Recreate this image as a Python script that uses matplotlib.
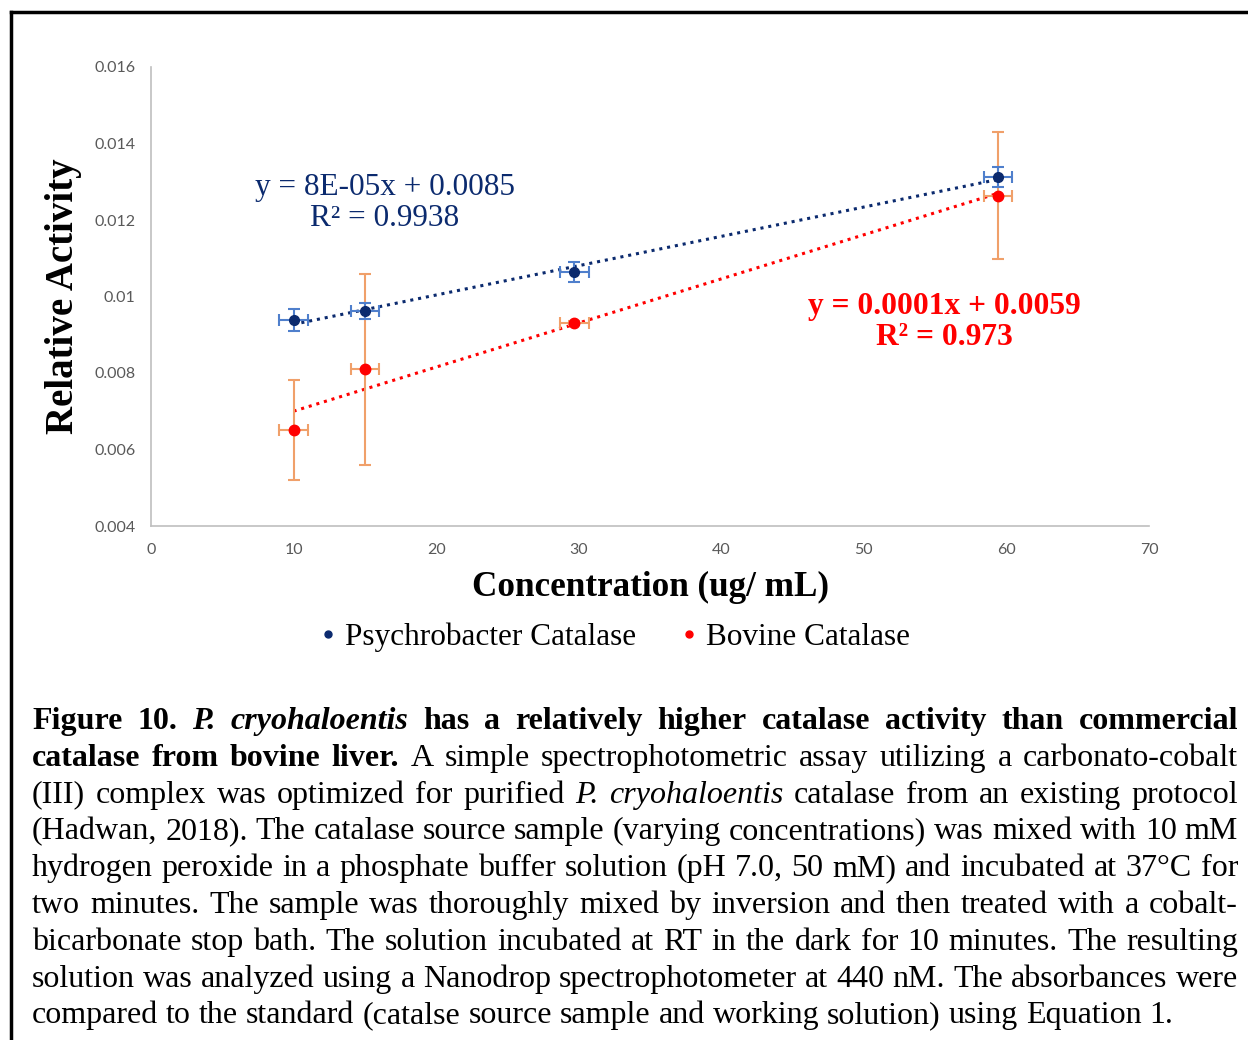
import numpy as np
import matplotlib
matplotlib.use("Agg")
import matplotlib.pyplot as plt
from matplotlib.lines import Line2D
from matplotlib.ticker import FuncFormatter

# data
conc_psy = [10, 15, 29.7, 59.4]
act_psy = [0.00939, 0.00962, 0.01064, 0.01312]
yerr_psy = [0.00029, 0.00022, 0.00027, 0.00026]
xerr_psy = [1.0, 1.0, 1.0, 1.0]

conc_bov = [10, 15, 29.7, 59.4]
act_bov = [0.00651, 0.0081, 0.00931, 0.01263]
yerr_bov = [0.0013, 0.0025, 0.00005, 0.00166]
xerr_bov = [1.0, 1.0, 1.0, 1.0]

xticks = [0, 10, 20, 30, 40, 50, 60, 70]
yticks = [0.004, 0.006, 0.008, 0.01, 0.012, 0.014, 0.016]

eq_psy = "y = 8E-05x + 0.0085\nR² = 0.9938"
eq_bov = "y = 0.0001x + 0.0059\nR² = 0.973"

caption = [
    [("Figure 10.", "b"), ("P. cryohaloentis", "bi"),
     ("has a relatively higher catalase activity than commercial", "b")],
    [("catalase from bovine liver.", "b"),
     ("A simple spectrophotometric assay utilizing a carbonato-cobalt", "r")],
    [("(III) complex was optimized for purified", "r"), ("P. cryohaloentis", "i"),
     ("catalase from an existing protocol", "r")],
    [("(Hadwan, 2018). The catalase source sample (varying concentrations) was mixed with 10 mM", "r")],
    [("hydrogen peroxide in a phosphate buffer solution (pH 7.0, 50 mM) and incubated at 37°C for", "r")],
    [("two minutes. The sample was thoroughly mixed by inversion and then treated with a cobalt-", "r")],
    [("bicarbonate stop bath. The solution incubated at RT in the dark for 10 minutes. The resulting", "r")],
    [("solution was analyzed using a Nanodrop spectrophotometer at 440 nM. The absorbances were", "r")],
    [("compared to the standard (catalse source sample and working solution) using Equation 1.", "r")],
]

W, H = 1248, 1040
SERIF = "Liberation Serif"
NAVY = "#0B2A6E"
BLUE_ERR = "#4F7FCC"
RED = "#FF0000"
ORANGE_ERR = "#F0A06A"
CAP_SIZE = 23


def px(x, y):
    return x / W, 1 - y / H


fig = plt.figure(figsize=(W / 100, H / 100), dpi=100)
ax = fig.add_axes([151 / W, 1 - 526 / H, (1149 - 151) / W, (526 - 67) / H])

# trendlines (least squares over each series)
for xs, ys, col in [(conc_psy, act_psy, NAVY), (conc_bov, act_bov, RED)]:
    k, b = np.polyfit(xs, ys, 1)
    xx = np.array([min(xs), max(xs)])
    ax.plot(xx, k * xx + b, color=col, lw=2.2, ls=(0, (1, 1.6)), zorder=2)

ax.errorbar(conc_bov, act_bov, yerr=yerr_bov, xerr=xerr_bov, fmt="o", color=RED,
            ms=7.5, ecolor=ORANGE_ERR, elinewidth=1.5, capsize=4, capthick=1.5, zorder=3)
ax.errorbar(conc_psy, act_psy, yerr=yerr_psy, xerr=xerr_psy, fmt="o", color=NAVY,
            ms=7, ecolor=BLUE_ERR, elinewidth=1.5, capsize=4, capthick=1.5, zorder=4)

ax.set_xlim(0, 70)
ax.set_ylim(0.004, 0.016)
ax.set_xticks(xticks)
ax.set_yticks(yticks)
ax.yaxis.set_major_formatter(FuncFormatter(lambda v, p: "{:g}".format(v)))
ax.tick_params(length=0, labelsize=11.5, labelcolor="#595959")
ax.tick_params(axis="y", pad=11)
ax.tick_params(axis="x", pad=12.5)
for lab in ax.get_xticklabels() + ax.get_yticklabels():
    lab.set_fontfamily("Lato")
for s in ["top", "right"]:
    ax.spines[s].set_visible(False)
for s in ["left", "bottom"]:
    ax.spines[s].set_color("#BFBFBF")
    ax.spines[s].set_linewidth(1.2)

fig.text(*px(64, 296), "Relative Activity", rotation=90, ha="center", va="center",
         fontsize=28, fontweight="bold", fontfamily=SERIF)
fig.text(*px(650, 587), "Concentration (ug/ mL)", ha="center", va="center",
         fontsize=25.3, fontweight="bold", fontfamily=SERIF)

fig.text(*px(385, 203), eq_psy, ha="center", va="center", multialignment="center",
         fontsize=22.5, fontfamily=SERIF, color=NAVY, linespacing=1.1)
fig.text(*px(944, 322), eq_bov, ha="center", va="center", multialignment="center",
         fontsize=22.7, fontweight="bold", fontfamily=SERIF, color=RED, linespacing=1.1)

handles = [Line2D([], [], ls="none", marker="o", ms=5, color=NAVY),
           Line2D([], [], ls="none", marker="o", ms=5, color=RED)]
fig.legend(handles, ["Psychrobacter Catalase", "Bovine Catalase"], loc="center",
           bbox_to_anchor=px(615, 637), ncol=2, frameon=False, handlelength=0.5,
           handletextpad=0.3, columnspacing=1.42, prop={"family": SERIF, "size": 22.5})

# frame around figure
fig.add_artist(Line2D([11 / W, 1], [1 - 12 / H, 1 - 12 / H], color="black", lw=2.5))
fig.add_artist(Line2D([11 / W, 11 / W], [0, 1 - 12 / H], color="black", lw=2.5))

# justified caption
styles = {"r": ("normal", "normal"), "b": ("bold", "normal"),
          "i": ("normal", "italic"), "bi": ("bold", "italic")}
renderer = fig.canvas.get_renderer()
x0, x1 = 32, 1238
y_first, line_h = 729, 36.8
for n, line in enumerate(caption):
    y = y_first + n * line_h
    words = []
    for chunk, st in line:
        for w in chunk.split(" "):
            weight, style = styles[st]
            t = fig.text(0, 1 - y / H, w, ha="left", va="baseline", fontsize=CAP_SIZE,
                         fontfamily=SERIF, fontweight=weight, fontstyle=style)
            words.append(t)
    widths = [t.get_window_extent(renderer).width for t in words]
    if n == len(caption) - 1:
        gap = 0.25 * CAP_SIZE * 100 / 72
    else:
        gap = (x1 - x0 - sum(widths)) / (len(words) - 1)
    xpos = x0
    for t, w in zip(words, widths):
        t.set_x(xpos / W)
        xpos += w + gap

fig.savefig("out.png", dpi=100)
